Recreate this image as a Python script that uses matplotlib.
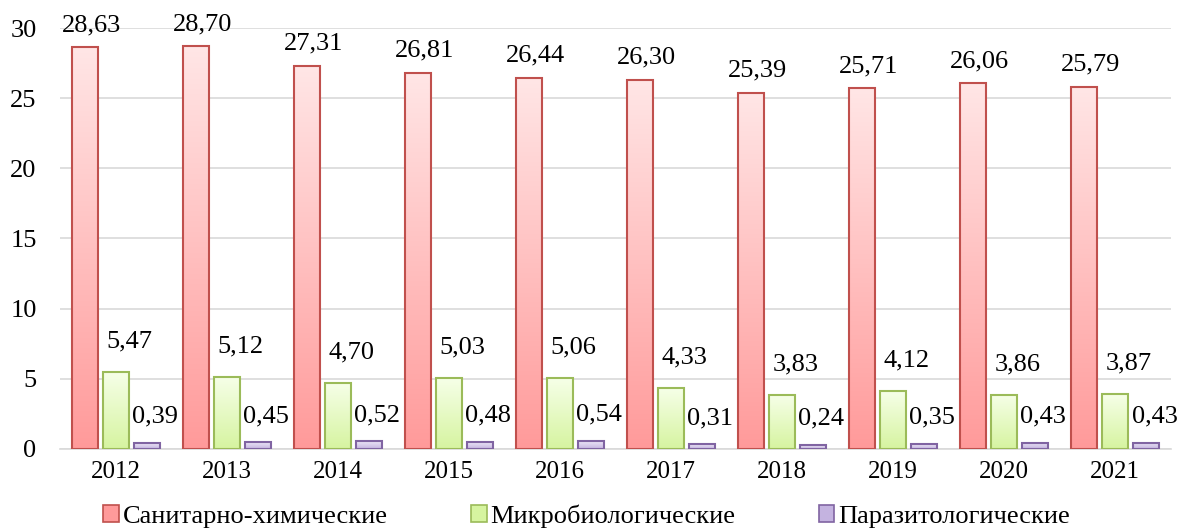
import numpy as np
import matplotlib

matplotlib.use("Agg")
import matplotlib.pyplot as plt
from matplotlib.colors import LinearSegmentedColormap
from matplotlib.patches import Patch

years = ["2012", "2013", "2014", "2015", "2016", "2017", "2018", "2019", "2020", "2021"]
sanitary = [28.63, 28.70, 27.31, 26.81, 26.44, 26.30, 25.39, 25.71, 26.06, 25.79]
micro = [5.47, 5.12, 4.70, 5.03, 5.06, 4.33, 3.83, 4.12, 3.86, 3.87]
parasit = [0.39, 0.45, 0.52, 0.48, 0.54, 0.31, 0.24, 0.35, 0.43, 0.43]
series_names = ["Санитарно-химические", "Микробиологические", "Паразитологические"]

plt.rcParams["font.family"] = ["Liberation Serif", "DejaVu Serif"]

# (top colour, bottom colour, edge colour, label offset in points)
styles = [
    ("#ffe6e6", "#ff9a9a", "#c0504d", (5, 16)),
    ("#f6ffe8", "#d6f4a0", "#9bbb59", (10, 22)),
    ("#ece6f6", "#c4b3e0", "#8064a2", (6, 19)),
]

fig = plt.figure(figsize=(11.8, 5.31), dpi=100)
ax = fig.add_axes([0.051, 0.155, 0.941, 0.792])

x = np.arange(len(years))
width = 0.234
step = 0.28
grad = np.linspace(0, 1, 256).reshape(-1, 1)

for i, (vals, name) in enumerate(zip([sanitary, micro, parasit], series_names)):
    top, bottom, edge, (dx, dy) = styles[i]
    cmap = LinearSegmentedColormap.from_list(f"g{i}", [top, bottom])
    pos = x + (i - 1) * step
    for xc, v in zip(pos, vals):
        ax.imshow(grad, extent=[xc - width / 2, xc + width / 2, 0, v],
                  aspect="auto", cmap=cmap, zorder=2, origin="upper")
        ax.annotate(f"{v:.2f}".replace(".", ","), (xc, v), xytext=(dx, dy),
                    textcoords="offset points", ha="center", va="center",
                    fontsize=19, zorder=4)
    ax.bar(pos, vals, width=width, facecolor="none", edgecolor=edge,
           linewidth=1.5, zorder=3)

ax.set_xlim(-0.5, len(years) - 0.5)
ax.set_ylim(0, 30)
ax.set_yticks(range(0, 31, 5))
ax.set_xticks(x)
ax.set_xticklabels(years)
ax.tick_params(axis="x", labelsize=18, length=0, pad=9)
ax.tick_params(axis="y", labelsize=19, length=0, pad=17)
ax.yaxis.grid(True, color="#d9d9d9", linewidth=1.2, zorder=0)
ax.set_axisbelow(True)
for side in ["top", "right", "left"]:
    ax.spines[side].set_visible(False)
ax.spines["bottom"].set_color("#d9d9d9")
ax.spines["bottom"].set_linewidth(1.2)

handles = [Patch(facecolor=s[1], edgecolor=s[2], linewidth=1.2) for s in styles]
fig.legend(handles, series_names, loc="center", bbox_to_anchor=(0.497, 0.028),
           ncol=3, frameon=False, fontsize=19, handlelength=0.6, handleheight=0.6,
           handletextpad=0.15, columnspacing=3.15)

fig.savefig("out.png", dpi=100)
